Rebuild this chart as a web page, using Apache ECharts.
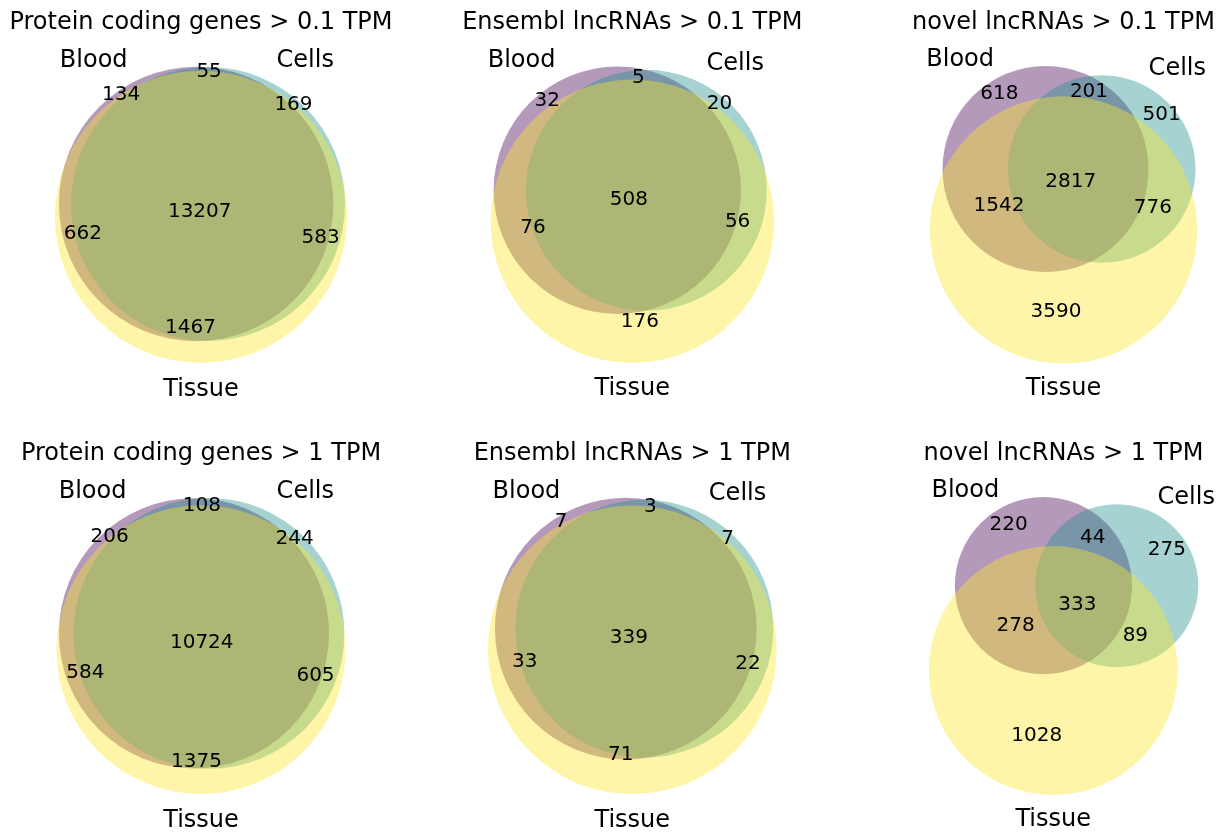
<!DOCTYPE html>
<html>
<head>
<meta charset="utf-8">
<title>Expressed genes and lncRNAs by sample type</title>
<script src="https://cdn.jsdelivr.net/npm/echarts@6/dist/echarts.min.js"></script>
<style>
  html, body { margin: 0; padding: 0; background: #ffffff; }
  #chart { width: 1225px; height: 834px; }
</style>
</head>
<body>
<div id="chart"></div>
<script>
// ---------------------------------------------------------------------------
// Data
// ---------------------------------------------------------------------------
const panelTitles = [
  'Protein coding genes > 0.1 TPM',
  'Ensembl lncRNAs > 0.1 TPM',
  'novel lncRNAs > 0.1 TPM',
  'Protein coding genes > 1 TPM',
  'Ensembl lncRNAs > 1 TPM',
  'novel lncRNAs > 1 TPM'
];
const setNames = ['Blood', 'Cells', 'Tissue'];

// Region counts, in the order:
// Blood only, Cells only, Blood&Cells, Tissue only, Blood&Tissue, Cells&Tissue, all three
const proteinCoding01 = [134, 169, 55, 1467, 662, 583, 13207];
const ensemblLnc01    = [32, 20, 5, 176, 76, 56, 508];
const novelLnc01      = [618, 501, 201, 3590, 1542, 776, 2817];
const proteinCoding1  = [206, 244, 108, 1375, 584, 605, 10724];
const ensemblLnc1     = [7, 7, 3, 71, 33, 22, 339];
const novelLnc1       = [220, 275, 44, 1028, 278, 89, 333];

const panelCounts = [proteinCoding01, ensemblLnc01, novelLnc01,
                     proteinCoding1, ensemblLnc1, novelLnc1];

// membership of each region in (Blood, Cells, Tissue)
const regionMasks = [[1,0,0],[0,1,0],[1,1,0],[0,0,1],[1,0,1],[0,1,1],[1,1,1]];

// ---------------------------------------------------------------------------
// Styling / layout
// ---------------------------------------------------------------------------
const FONT = '"DejaVu Sans", "Liberation Sans", sans-serif';
const SET_COLORS = ['rgba(68,1,84,0.4)', 'rgba(33,145,140,0.4)', 'rgba(253,231,37,0.4)'];
const COL_CENTERS = [201.0, 632.3, 1063.5];
const ROW_TOPS = [40.6, 471.8];
const AXES_H = 348.4;      // height of each (equal-aspect) plotting box
const BOX_W = 400;         // available width per panel
const TITLE_PAD = 11.4;
const TITLE_SIZE = 24, SET_LABEL_SIZE = 24, COUNT_SIZE = 20;
const MID = 0.26;          // canvas "middle" baseline offset, in em

// ---------------------------------------------------------------------------
// Area-proportional three-circle layout
// ---------------------------------------------------------------------------
function lensArea(r1, r2, d) {
  if (d >= r1 + r2) return 0;
  const lo = Math.min(r1, r2), hi = Math.max(r1, r2);
  if (d <= hi - lo) return Math.PI * lo * lo;
  const a1 = r1 * r1 * Math.acos((d * d + r1 * r1 - r2 * r2) / (2 * d * r1));
  const a2 = r2 * r2 * Math.acos((d * d + r2 * r2 - r1 * r1) / (2 * d * r2));
  const k = 0.5 * Math.sqrt((-d + r1 + r2) * (d + r1 - r2) * (d - r1 + r2) * (d + r1 + r2));
  return a1 + a2 - k;
}

function distanceForArea(r1, r2, area) {
  const dMin = Math.abs(r1 - r2), dMax = r1 + r2;
  if (area <= 1e-12) return dMax;
  if (area >= Math.PI * Math.min(r1, r2) ** 2 - 1e-12) return dMin;
  let lo = dMin, hi = dMax;
  for (let i = 0; i < 200; i++) {
    const m = 0.5 * (lo + hi);
    if (lensArea(r1, r2, m) > area) lo = m; else hi = m;
  }
  return 0.5 * (lo + hi);
}

function solveCircles(counts) {
  const [Abc, aBc, ABc, abC, AbC, aBC, ABC] = counts;
  const total = counts.reduce((s, v) => s + v, 0);
  const areaA = (Abc + ABc + AbC + ABC) / total;
  const areaB = (aBc + ABc + aBC + ABC) / total;
  const areaC = (abC + AbC + aBC + ABC) / total;
  const areaAB = (ABc + ABC) / total;
  const areaBC = (aBC + ABC) / total;
  const areaAC = (AbC + ABC) / total;
  const r = [areaA, areaB, areaC].map(a => Math.sqrt(a / Math.PI));
  const d = [
    distanceForArea(r[0], r[1], areaAB),
    distanceForArea(r[1], r[2], areaBC),
    distanceForArea(r[2], r[0], areaAC)
  ];
  for (let i = 0; i < 3; i++) {
    const j = (i + 1) % 3, k = (i + 2) % 3;
    if (d[i] > d[j] + d[k]) {
      const [a, b] = d[j] < d[k] ? [j, k] : [k, j];
      d[i] = d[b] + d[a] * 0.8;
    }
  }
  const [dab, dbc, dac] = d;
  const cxC = dab > 1e-10 ? (dac * dac - dbc * dbc + dab * dab) / (2 * dab) : 0;
  const cy2 = dac * dac - cxC * cxC;
  const cyC = cy2 > 1e-10 ? -Math.sqrt(cy2) : 0;
  const pts = [[0, 0], [dab, 0], [cxC, cyC]];
  // shift so that the r^2-weighted centre of mass sits at the origin
  const w = r.map(v => v * v), ws = w[0] + w[1] + w[2];
  const mx = (w[0] * pts[0][0] + w[1] * pts[1][0] + w[2] * pts[2][0]) / ws;
  const my = (w[0] * pts[0][1] + w[1] * pts[1][1] + w[2] * pts[2][1]) / ws;
  return pts.map((p, i) => ({ x: p[0] - mx, y: p[1] - my, r: r[i] }));
}

// ---------------------------------------------------------------------------
// Region label anchor: arc midpoints weighted by arc angle, largest piece
// ---------------------------------------------------------------------------
function regionAnchor(circles, mask) {
  const N = 7200, step = 2 * Math.PI / N;
  const arcs = [];
  for (let k = 0; k < 3; k++) {
    const c = circles[k];
    const ok = new Array(N);
    let cnt = 0;
    for (let i = 0; i < N; i++) {
      const t = i * step;
      const px = c.x + c.r * Math.cos(t), py = c.y + c.r * Math.sin(t);
      let good = true;
      for (let j = 0; j < 3 && good; j++) {
        if (j === k) continue;
        const o = circles[j];
        const inside = (px - o.x) ** 2 + (py - o.y) ** 2 < o.r * o.r;
        if (inside !== (mask[j] === 1)) good = false;
      }
      ok[i] = good;
      if (good) cnt++;
    }
    if (cnt === 0) continue;
    if (cnt === N) {
      arcs.push({ full: true, c, span: 360 });
      continue;
    }
    const s0 = ok.indexOf(false);
    let i = 0;
    while (i < N) {
      if (ok[(s0 + i) % N]) {
        let j = i;
        while (j < N && ok[(s0 + j) % N]) j++;
        const a0 = (s0 + i - 0.5) * step, a1 = (s0 + j - 0.5) * step;
        const am = 0.5 * (a0 + a1);
        const pt = a => [c.x + c.r * Math.cos(a), c.y + c.r * Math.sin(a)];
        const from = mask[k] ? a0 : a1, to = mask[k] ? a1 : a0;
        const samples = [];
        for (let q = 0; q <= 40; q++) samples.push(pt(from + (to - from) * q / 40));
        arcs.push({
          full: false, c,
          span: (a1 - a0) * 180 / Math.PI,
          mid: pt(am), start: pt(from), end: pt(to), samples
        });
        i = j;
      } else {
        i++;
      }
    }
  }
  // chain arcs into closed loops
  const used = arcs.map(() => false);
  const loops = [];
  const dist = (p, q) => Math.hypot(p[0] - q[0], p[1] - q[1]);
  for (let s = 0; s < arcs.length; s++) {
    if (used[s]) continue;
    used[s] = true;
    const loop = [s];
    if (!arcs[s].full) {
      let cur = s;
      for (;;) {
        let best = -1, bd = Infinity;
        for (let q = 0; q < arcs.length; q++) {
          if (used[q] || arcs[q].full) continue;
          const dd = dist(arcs[cur].end, arcs[q].start);
          if (dd < bd) { bd = dd; best = q; }
        }
        const closeD = dist(arcs[cur].end, arcs[s].start);
        if (best < 0 || closeD <= bd) break;
        used[best] = true;
        loop.push(best);
        cur = best;
      }
    }
    loops.push(loop);
  }
  let bestLoop = null, bestArea = -1;
  loops.forEach(loop => {
    let area;
    if (arcs[loop[0]].full) {
      area = Math.PI * arcs[loop[0]].c.r ** 2;
    } else {
      const poly = [];
      loop.forEach(ix => poly.push(...arcs[ix].samples));
      let s = 0;
      for (let i = 0; i < poly.length; i++) {
        const p = poly[i], q = poly[(i + 1) % poly.length];
        s += p[0] * q[1] - q[0] * p[1];
      }
      area = Math.abs(s) / 2;
    }
    if (area > bestArea) { bestArea = area; bestLoop = loop; }
  });
  if (!bestLoop) return null;
  if (arcs[bestLoop[0]].full) return [arcs[bestLoop[0]].c.x, arcs[bestLoop[0]].c.y];
  let sx = 0, sy = 0, sw = 0;
  bestLoop.forEach(ix => {
    const a = arcs[ix];
    sx += a.mid[0] * a.span; sy += a.mid[1] * a.span; sw += a.span;
  });
  return [sx / sw, sy / sw];
}

// ---------------------------------------------------------------------------
// Build the option
// ---------------------------------------------------------------------------
const grids = [], xAxes = [], yAxes = [], series = [], titles = [];

panelCounts.forEach((counts, p) => {
  const col = p % 3, row = Math.floor(p / 3);
  const circles = solveCircles(counts);

  const minX = Math.min(...circles.map(c => c.x - c.r)) - 0.1;
  const maxX = Math.max(...circles.map(c => c.x + c.r)) + 0.1;
  const minY = Math.min(...circles.map(c => c.y - c.r)) - 0.1;
  const maxY = Math.max(...circles.map(c => c.y + c.r)) + 0.1;
  const scale = Math.min(AXES_H / (maxY - minY), BOX_W / (maxX - minX));
  const w = (maxX - minX) * scale, h = (maxY - minY) * scale;
  const top = ROW_TOPS[row] + (AXES_H - h) / 2;

  grids.push({ left: COL_CENTERS[col] - w / 2, top: top, width: w, height: h,
               containLabel: false, show: false });
  xAxes.push({ type: 'value', gridIndex: p, min: minX, max: maxX, show: false });
  yAxes.push({ type: 'value', gridIndex: p, min: minY, max: maxY, show: false });

  // the three sets
  series.push({
    type: 'custom', name: panelTitles[p] + ' circles',
    coordinateSystem: 'cartesian2d', xAxisIndex: p, yAxisIndex: p, z: 1,
    silent: true, clip: false,
    data: circles.map((c, k) => [c.x, c.y, c.r, k]),
    renderItem: (params, api) => {
      const pt = api.coord([api.value(0), api.value(1)]);
      const rr = api.size([api.value(2), 0])[0];
      return {
        type: 'circle',
        shape: { cx: pt[0], cy: pt[1], r: rr },
        style: { fill: SET_COLORS[api.value(3)], stroke: null }
      };
    }
  });

  // set names
  const [cA, cB, cC] = circles;
  const setLabelData = [
    [cA.x - cA.r / 2, cA.y + cA.r, 0],
    [cB.x + cB.r / 2, cB.y + cB.r, 1],
    [cC.x, cC.y - 1.1 * cC.r, 2]
  ];
  series.push({
    type: 'custom', name: panelTitles[p] + ' sets',
    coordinateSystem: 'cartesian2d', xAxisIndex: p, yAxisIndex: p, z: 5,
    silent: true, clip: false,
    data: setLabelData,
    renderItem: (params, api) => {
      const k = api.value(2);
      const pt = api.coord([api.value(0), api.value(1)]);
      const align = k === 0 ? 'right' : (k === 1 ? 'left' : 'center');
      // Blood/Cells sit on their baseline; Tissue hangs from its top
      const y = k === 2 ? pt[1] + (0.76 - MID) * SET_LABEL_SIZE : pt[1] - MID * SET_LABEL_SIZE;
      return {
        type: 'text', x: pt[0], y: y,
        style: {
          text: setNames[k], fontSize: SET_LABEL_SIZE, fontFamily: FONT, fill: '#000',
          align: align, verticalAlign: 'middle', textAlign: align, textVerticalAlign: 'middle'
        }
      };
    }
  });

  // region counts
  const countData = [];
  regionMasks.forEach((mask, ri) => {
    const anchor = regionAnchor(circles, mask);
    if (anchor) countData.push([anchor[0], anchor[1], counts[ri]]);
  });
  series.push({
    type: 'custom', name: panelTitles[p] + ' counts',
    coordinateSystem: 'cartesian2d', xAxisIndex: p, yAxisIndex: p, z: 6,
    silent: true, clip: false,
    data: countData,
    renderItem: (params, api) => {
      const pt = api.coord([api.value(0), api.value(1)]);
      return {
        type: 'text', x: pt[0], y: pt[1],
        style: {
          text: String(api.value(2)), fontSize: COUNT_SIZE, fontFamily: FONT, fill: '#000',
          align: 'center', verticalAlign: 'middle', textAlign: 'center', textVerticalAlign: 'middle'
        }
      };
    }
  });

  // panel title, centred over its plotting box
  titles.push({
    type: 'text', silent: true,
    x: COL_CENTERS[col], y: top - TITLE_PAD - MID * TITLE_SIZE,
    style: {
      text: panelTitles[p], fontSize: TITLE_SIZE, fontFamily: FONT, fill: '#000',
      align: 'center', verticalAlign: 'middle', textAlign: 'center', textVerticalAlign: 'middle'
    }
  });
});

const chart = echarts.init(document.getElementById('chart'), null, { renderer: 'canvas', width: 1225, height: 834 });
chart.setOption({
  backgroundColor: '#ffffff',
  animation: false,
  grid: grids,
  xAxis: xAxes,
  yAxis: yAxes,
  series: series,
  graphic: titles
});
</script>
</body>
</html>
